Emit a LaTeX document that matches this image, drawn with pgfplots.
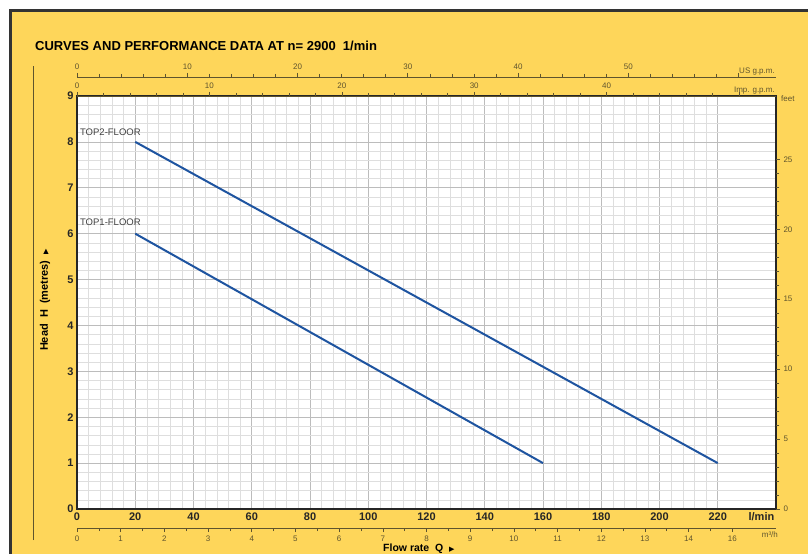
\documentclass[border=0pt]{standalone}
\usepackage{fontspec}
\setmainfont{Liberation Sans}
\newfontfamily\dejavu{DejaVu Sans}
\usepackage{pgfplots}
\pgfplotsset{compat=1.18}
\definecolor{bgyellow}{RGB}{254,214,90}
\definecolor{curveblue}{RGB}{30,84,160}
\definecolor{scalecol}{RGB}{95,84,45}
\definecolor{gridminor}{RGB}{222,222,222}
\definecolor{gridmajor}{RGB}{188,188,188}

\begin{document}
\begin{tikzpicture}
\useasboundingbox (0,0) rectangle (808pt,554pt);
\fill[white] (0,0) rectangle (808pt,554pt);
\fill[bgyellow] (10pt,0) rectangle (808pt,543pt);
\draw[line width=3pt, black!80] (10pt,0) -- (10pt,543pt) -- (808pt,543pt);
\draw[scalecol, line width=0.8pt] (33pt,14pt) -- (33pt,488pt);
\node[anchor=base west, inner sep=0, font=\fontsize{13}{15}\selectfont\bfseries]
  at (35pt,503pt) {CURVES AND PERFORMANCE DATA AT n= 2900\ \ 1/min};
\node[rotate=90, font=\fontsize{11}{13}\selectfont\bfseries] at (45pt,254pt)
  {Head\ \ H\ \ (metres)\ \ {\dejavu\fontsize{7}{8}\selectfont ▶}};
\node[anchor=base west, inner sep=0, font=\fontsize{10.5}{12}\selectfont\bfseries] at (383pt,3pt)
  {Flow rate\ \ Q\ \ {\dejavu\fontsize{7}{8}\selectfont ▶}};

\pgfplotsset{
  every axis/.append style={scale only axis, width=699pt},
  smallscale/.style={
    axis y line=none, ymin=0, ymax=1, height=10pt,
    axis line style={scalecol, line width=0.7pt},
    tick style={scalecol, line width=0.6pt},
    major tick length=4pt, minor tick length=3pt,
    tick align=outside,
    tick label style={font=\fontsize{8}{9}\selectfont, text=scalecol},
    /pgf/number format/assume math mode=true,
  },
}

% main chart: head (m) against flow rate (l/min)
\begin{axis}[
  at={(77pt,45pt)}, anchor=south west, height=413pt,
  xmin=0, xmax=240, ymin=0, ymax=9,
  xtick={0,20,...,220}, ytick={0,...,9},
  minor x tick num=4, minor y tick num=4,
  grid=both,
  major grid style={gridmajor, line width=0.6pt},
  minor grid style={gridminor, line width=0.5pt},
  major tick length=0pt, minor tick length=0pt,
  axis line style={black!85, line width=1.2pt},
  axis background/.style={fill=white},
  tick label style={font=\fontsize{11}{13}\selectfont\bfseries, text=black!85},
  /pgf/number format/assume math mode=true,
  clip=false,
]
\addplot[curveblue, line width=2pt] coordinates {(20,8) (220,1)};
\addplot[curveblue, line width=2pt] coordinates {(20,6) (160,1)};
\node[anchor=west, inner sep=0, font=\fontsize{9.5}{11}\selectfont, text=black!75] at (axis cs:1,8.2) {TOP2-FLOOR};
\node[anchor=west, inner sep=0, font=\fontsize{9.5}{11}\selectfont, text=black!75] at (axis cs:1,6.24) {TOP1-FLOOR};
\node[anchor=north, font=\fontsize{11}{13}\selectfont\bfseries, text=black!85] at (axis cs:235,0) {l/min};
\end{axis}

% feet scale on the right
\begin{axis}[
  at={(77pt,45pt)}, anchor=south west, height=413pt,
  xmin=0, xmax=240, ymin=0, ymax=29.5276,
  axis x line=none, axis y line*=right,
  axis line style={draw=none},
  ytick={0,5,...,25}, minor y tick num=4,
  tick align=outside, major tick length=4pt, minor tick length=3pt,
  tick style={scalecol, line width=0.6pt},
  tick label style={font=\fontsize{8}{9}\selectfont, text=scalecol},
  /pgf/number format/assume math mode=true,
  clip=false,
]
\node[anchor=north west, font=\fontsize{8}{9}\selectfont, text=scalecol, inner sep=0] at (rel axis cs:1,1) [xshift=5pt] {feet};
\end{axis}

% US gallons per minute
\begin{axis}[
  smallscale, at={(77pt,477pt)}, anchor=north west,
  axis x line*=top, xmin=0, xmax=63.4013,
  xtick={0,10,...,60}, xticklabels={0,10,20,30,40,50,{}},
  minor x tick num=4,
  clip=false,
]
\node[anchor=south east, font=\fontsize{8}{9}\selectfont, text=scalecol, inner sep=1pt] at (rel axis cs:1,1) [yshift=1pt] {US g.p.m.};
\end{axis}

% imperial gallons per minute
\begin{axis}[
  smallscale, at={(77pt,458pt)}, anchor=north west,
  axis x line*=top, xmin=0, xmax=52.7929,
  xtick={0,10,...,50}, xticklabels={0,10,20,30,40,{}},
  minor x tick num=4,
  clip=false,
]
\node[anchor=south east, font=\fontsize{8}{9}\selectfont, text=scalecol, inner sep=1pt] at (rel axis cs:1,1) [yshift=1pt] {Imp. g.p.m.};
\end{axis}

% cubic metres per hour
\begin{axis}[
  smallscale, at={(77pt,26pt)}, anchor=south west,
  axis x line*=bottom, xmin=0, xmax=16,
  xtick={0,...,15}, xticklabels={0,1,2,3,4,5,6,7,8,9,10,11,12,13,14,16},
  minor x tick num=1,
  clip=false,
]
\node[anchor=north, font=\fontsize{8}{9}\selectfont, text=scalecol] at (axis cs:15.86,0) {m³/h};
\end{axis}
\end{tikzpicture}
\end{document}
